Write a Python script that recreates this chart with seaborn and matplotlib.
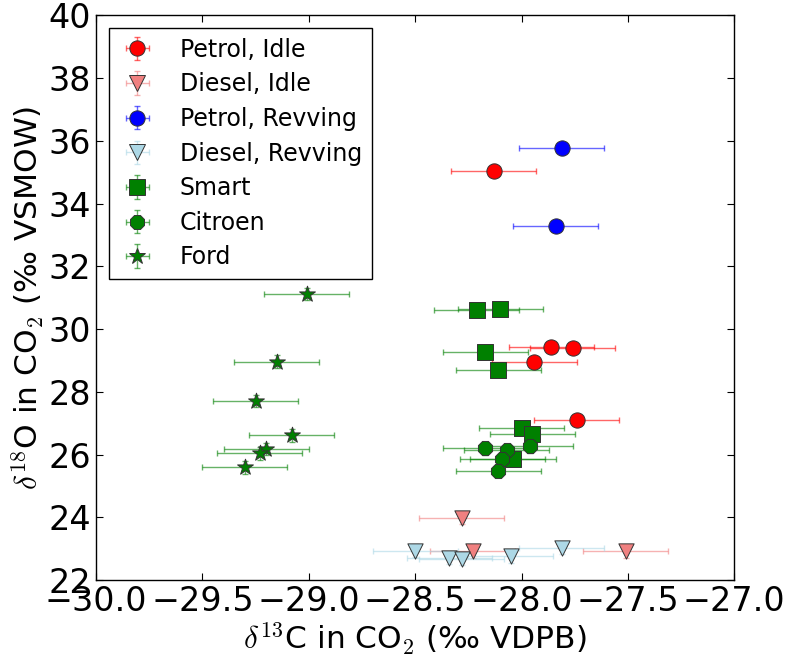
import numpy as np
import pandas as pd
import matplotlib
matplotlib.use("Agg")
import matplotlib.pyplot as plt
from matplotlib.lines import Line2D
from matplotlib.container import ErrorbarContainer
import seaborn as sns

# Isotope measurements of exhaust CO2 (delta values, per mil)
petrol_idle_x = [-28.13, -27.86, -27.76, -27.94, -27.74]
petrol_idle_y = [35.05, 29.42, 29.40, 28.95, 27.10]
diesel_idle_x = [-28.28, -28.23, -27.51]
diesel_idle_y = [23.97, 22.91, 22.91]
petrol_rev_x = [-27.81, -27.84]
petrol_rev_y = [35.76, 33.28]
diesel_rev_x = [-28.50, -28.34, -28.28, -28.05, -27.81]
diesel_rev_y = [22.94, 22.70, 22.67, 22.75, 23.02]
smart_x = [-28.21, -28.10, -28.17, -28.11, -28.00, -27.95, -28.04]
smart_y = [30.61, 30.65, 29.26, 28.70, 26.85, 26.66, 25.85]
citroen_x = [-28.17, -28.07, -27.96, -28.09, -28.11]
citroen_y = [26.20, 26.14, 26.26, 25.85, 25.49]
ford_x = [-29.01, -29.15, -29.25, -29.08, -29.20, -29.23, -29.30]
ford_y = [31.12, 28.96, 27.71, 26.61, 26.18, 26.04, 25.59]

# measurement uncertainty
x_err = 0.2
y_err = 0.2

series = [
    ("Petrol, Idle", petrol_idle_x, petrol_idle_y, "red", "o"),
    ("Diesel, Idle", diesel_idle_x, diesel_idle_y, "lightcoral", "v"),
    ("Petrol, Revving", petrol_rev_x, petrol_rev_y, "blue", "o"),
    ("Diesel, Revving", diesel_rev_x, diesel_rev_y, "lightblue", "v"),
    ("Smart", smart_x, smart_y, "green", "s"),
    ("Citroen", citroen_x, citroen_y, "green", "8"),
    ("Ford", ford_x, ford_y, "green", "*"),
]

sns.set_style("ticks")
plt.rcParams.update({
    "font.family": ["DejaVu Sans"],
    "mathtext.fontset": "cm",
    "mathtext.rm": "DejaVu Sans",
    "xtick.direction": "in",
    "ytick.direction": "in",
    "xtick.top": True,
    "ytick.right": True,
    "xtick.major.size": 5,
    "ytick.major.size": 5,
    "xtick.major.width": 0.8,
    "ytick.major.width": 0.8,
    "axes.edgecolor": "black",
    "axes.linewidth": 1.0,
    "xtick.color": "black",
    "ytick.color": "black",
    "text.color": "black",
    "axes.labelcolor": "black",
})

fig, ax = plt.subplots(figsize=(7.87, 6.64), dpi=100)
fig.subplots_adjust(left=0.122, right=0.933, bottom=0.1265, top=0.977)

msize = 11
star_size = 12
handles = []
for label, xs, ys, color, marker in series:
    df = pd.DataFrame({"x": xs, "y": ys})
    eb = ax.errorbar(df["x"], df["y"], xerr=x_err, yerr=y_err, fmt="none",
                     ecolor=color, elinewidth=1.0, capsize=2.5, capthick=1.0,
                     alpha=0.6, zorder=2)
    ms = star_size if marker == "*" else msize
    sns.scatterplot(data=df, x="x", y="y", marker=marker, color=color,
                    s=ms ** 2, edgecolor="0.2", linewidth=0.7, ax=ax,
                    zorder=3, legend=False)
    proxy = Line2D([], [], linestyle="none", marker=marker, color=color,
                   markersize=ms, markeredgecolor="0.2", markeredgewidth=0.7)
    handles.append(ErrorbarContainer((proxy, eb.lines[1], eb.lines[2]),
                                     has_xerr=True, has_yerr=True,
                                     label=label))

ax.set_xlim(-30, -27)
ax.set_ylim(22, 40)
ax.set_xticks(np.arange(-30, -26.9, 0.5))
ax.set_yticks(np.arange(22, 41, 2))
ax.tick_params(labelsize=24)
ax.set_xlabel(r"$\delta^{13}$C in CO$_2$ (‰ VDPB)", fontsize=22.5, labelpad=2)
ax.set_ylabel(r"$\delta^{18}$O in CO$_2$ (‰ VSMOW)", fontsize=22.5, labelpad=2)

leg = ax.legend(handles=handles, loc="upper left", fontsize=17,
                numpoints=1, handlelength=1.6, handletextpad=1.0,
                borderaxespad=0.55, labelspacing=0.45, fancybox=False,
                frameon=True, framealpha=1)
leg.get_frame().set_edgecolor("black")
leg.get_frame().set_linewidth(1.0)

fig.savefig("out.png", dpi=100)
